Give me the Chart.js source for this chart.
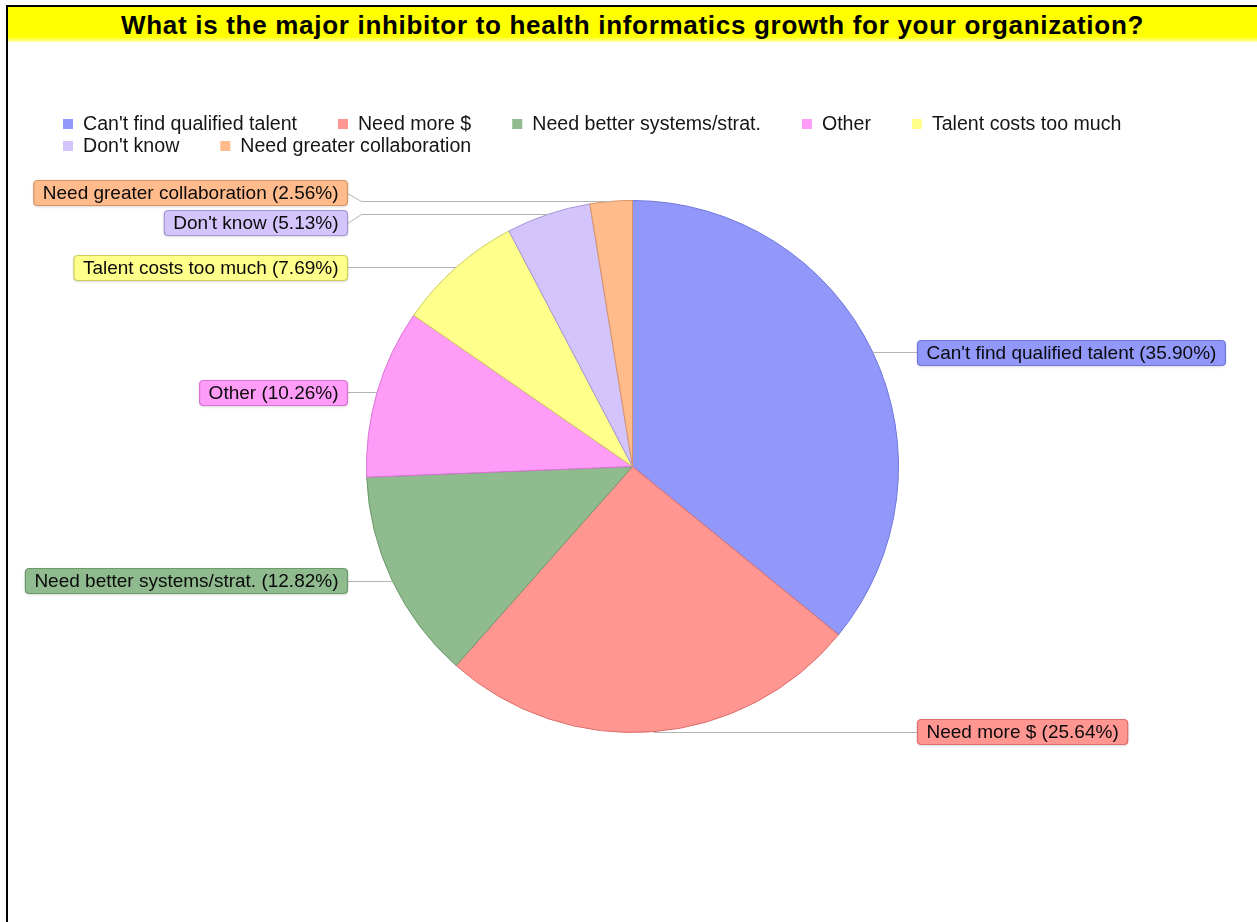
<!DOCTYPE html>
<html>
<head>
<meta charset="utf-8">
<title>Health informatics growth inhibitors</title>
<script src="https://cdn.jsdelivr.net/npm/chart.js@4.4.1/dist/chart.umd.min.js"></script>
<style>
  html, body { margin: 0; padding: 0; background: #fff; overflow: hidden; }
  #frame {
    position: absolute; left: 6px; top: 5px; width: 1260px; height: 930px;
    border-left: 2px solid #000; border-top: 2px solid #000;
  }
  #title {
    position: absolute; left: 8px; top: 7px; width: 1249px; height: 35px;
    background: linear-gradient(#ffff00 0%, #ffff00 85%, #ffffb0 100%);
    font: bold 26px "Liberation Sans", Arial, sans-serif; color: #000;
    letter-spacing: 0.7px; text-align: center; line-height: 36px;
  }
  #chart { position: absolute; left: 0; top: 0; }
</style>
</head>
<body>
<div id="frame"></div>
<div id="title">What is the major inhibitor to health informatics growth for your organization?</div>
<canvas id="chart" width="1257" height="922"></canvas>
<script>
// survey answers, share of respondents in percent
const categories = [
  "Can't find qualified talent",
  "Need more $",
  "Need better systems/strat.",
  "Other",
  "Talent costs too much",
  "Don't know",
  "Need greater collaboration"
];
const shares = [35.90, 25.64, 12.82, 10.26, 7.69, 5.13, 2.56];
const fills = ['#9198fa', '#ff9692', '#8fbb8f', '#ff9cf8', '#ffff8c', '#d3c4fc', '#ffbb8c'];
const edges = ['#6e76dc', '#dc6e6a', '#6a9a6a', '#d872d4', '#cccc5c', '#a696d6', '#d99466'];

const FONT = '"Liberation Sans", Arial, sans-serif';

/* ---------- legend, left aligned, wrapping rows ---------- */
const flowLegend = {
  id: 'flowLegend',
  afterDraw(chart) {
    const ctx = chart.ctx;
    ctx.save();
    ctx.font = '19.6px ' + FONT;
    ctx.textBaseline = 'middle';
    ctx.textAlign = 'left';
    let x = 63, y = 124;
    categories.forEach((name, i) => {
      const w = 20 + ctx.measureText(name).width;
      if (x + w > 1235) { x = 63; y += 22; }
      ctx.fillStyle = fills[i];
      ctx.fillRect(x, y - 5, 10, 10);
      ctx.fillStyle = '#151515';
      ctx.fillText(name, x + 20, y + 1);
      x += w + 41;
    });
    ctx.restore();
  }
};

/* ---------- callout boxes with leader lines ---------- */
function roundRect(ctx, x, y, w, h, r) {
  ctx.beginPath();
  ctx.moveTo(x + r, y);
  ctx.lineTo(x + w - r, y);
  ctx.quadraticCurveTo(x + w, y, x + w, y + r);
  ctx.lineTo(x + w, y + h - r);
  ctx.quadraticCurveTo(x + w, y + h, x + w - r, y + h);
  ctx.lineTo(x + r, y + h);
  ctx.quadraticCurveTo(x, y + h, x, y + h - r);
  ctx.lineTo(x, y + r);
  ctx.quadraticCurveTo(x, y, x + r, y);
  ctx.closePath();
}

const calloutPlugin = {
  id: 'callouts',
  afterDatasetsDraw(chart) {
    const ctx = chart.ctx;
    const meta = chart.getDatasetMeta(0);
    const BOX_H = 25, GAP = 5, OFFSET = 19, KNEE = 14;

    const items = meta.data.map((arc, i) => {
      const p = arc.getProps(['x', 'y', 'startAngle', 'endAngle', 'outerRadius'], true);
      const mid = (p.startAngle + p.endAngle) / 2;
      return {
        i,
        cx: p.x, r: p.outerRadius,
        px: p.x + Math.cos(mid) * p.outerRadius,
        py: p.y + Math.sin(mid) * p.outerRadius,
        right: Math.cos(mid) >= 0
      };
    });
    items.forEach(it => { it.ly = it.py; });

    // push overlapping boxes apart on each side
    [true, false].forEach(side => {
      const list = items.filter(it => it.right === side).sort((a, b) => a.py - b.py);
      for (let k = 0; k < 60; k++) {
        for (let j = 1; j < list.length; j++) {
          const d = BOX_H + GAP - (list[j].ly - list[j - 1].ly);
          if (d > 0) { list[j - 1].ly -= d / 2; list[j].ly += d / 2; }
        }
      }
    });

    ctx.save();
    ctx.font = '19px ' + FONT;
    ctx.textBaseline = 'middle';
    items.forEach(it => {
      const text = `${categories[it.i]} (${shares[it.i].toFixed(2)}%)`;
      const tw = ctx.measureText(text).width;
      const bw = tw + 18;
      const edgeX = it.right ? it.cx + it.r + OFFSET : it.cx - it.r - OFFSET;
      const bx = it.right ? edgeX : edgeX - bw;
      const by = Math.round(it.ly - BOX_H / 2) + 0.5;

      // leader line
      ctx.strokeStyle = '#b4b4b4';
      ctx.lineWidth = 1;
      ctx.beginPath();
      const ky = Math.round(it.py) + 0.5;
      ctx.moveTo(it.px, ky);
      if (Math.abs(it.ly - it.py) > 0.5) {
        const kx = it.right ? edgeX - KNEE : edgeX + KNEE;
        ctx.lineTo(kx, ky);
        ctx.lineTo(edgeX, Math.round(it.ly) + 0.5);
      } else {
        ctx.lineTo(edgeX, ky);
      }
      ctx.stroke();

      // box with a soft drop shadow
      ctx.save();
      ctx.shadowColor = 'rgba(0,0,0,0.2)';
      ctx.shadowBlur = 3;
      ctx.shadowOffsetY = 1;
      roundRect(ctx, bx, by, bw, BOX_H, 4);
      ctx.fillStyle = fills[it.i];
      ctx.fill();
      ctx.restore();
      roundRect(ctx, bx, by, bw, BOX_H, 4);
      ctx.strokeStyle = edges[it.i];
      ctx.lineWidth = 1.2;
      ctx.stroke();

      ctx.fillStyle = '#0a0a0a';
      ctx.textAlign = 'left';
      ctx.fillText(text, bx + 9, by + BOX_H / 2 + 1);
    });
    ctx.restore();
  }
};

new Chart(document.getElementById('chart'), {
  type: 'pie',
  data: {
    labels: categories,
    datasets: [{
      data: shares,
      backgroundColor: fills,
      borderColor: edges,
      borderWidth: 1
    }]
  },
  options: {
    responsive: false,
    animation: false,
    events: [],
    layout: { padding: { left: 366, right: 358, top: 200, bottom: 189 } },
    plugins: {
      legend: { display: false },
      tooltip: { enabled: false },
      title: { display: false }
    }
  },
  plugins: [calloutPlugin, flowLegend]
});
</script>
</body>
</html>
